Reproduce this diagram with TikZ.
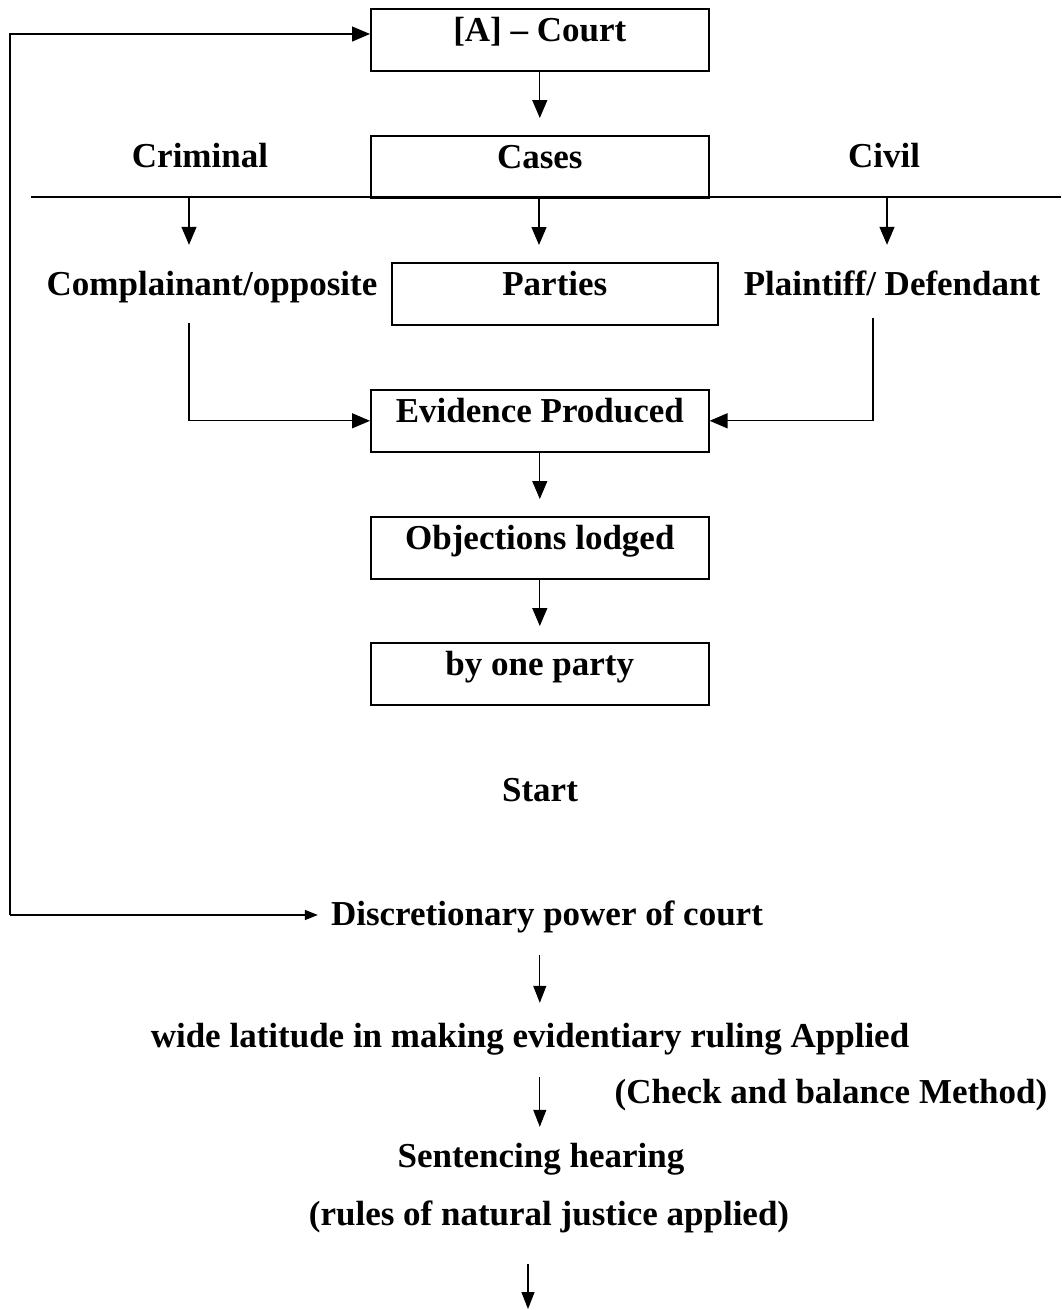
\documentclass[tikz,border=0pt]{standalone}
\usepackage{fontspec}
\setmainfont{Liberation Serif}
\usetikzlibrary{arrows.meta}
\tikzset{
	box/.style={draw, line width=1.6pt, anchor=north west, minimum width=338pt, minimum height=62pt, inner sep=0pt, text height=33pt, text depth=29pt},
	lbl/.style={anchor=base, inner sep=0pt, text height=24pt, text depth=8pt},
	arr/.style={line width=1.3pt, -{Triangle[length=18pt,width=15pt]}},
	thinarr/.style={line width=1.1pt, -{Triangle[length=17pt,width=13pt]}}
}
\begin{document}
\begin{tikzpicture}[x=1pt,y=-1pt,font=\fontsize{35}{42}\selectfont\bfseries]
		\useasboundingbox (0,0) rectangle (1061,1310);
		
		\node[box] (court) at (370,8) {[A] – Court};
		\node[box] (cases) at (370,135) {Cases};
		\node[lbl] (crim) at (200,167) {Criminal};
		\node[lbl] (civil) at (884,167) {Civil};
		\draw[line width=1.3pt] (31,197) -- (1061,197);
		\coordinate (dropL) at (189,197);
		\coordinate (dropM) at (539,197);
		\coordinate (dropR) at (887,197);
		
		\node[lbl] (comp) at (212,295) {Complainant/opposite};
		\node[box, minimum width=326pt, minimum height=61pt] (parties) at (391,262) {Parties};
		\node[lbl] (plaint) at (892,295) {Plaintiff/ Defendant};
		
		\node[box] (evid) at (370,389) {Evidence Produced};
		\node[box] (obj) at (370,516) {Objections lodged};
		\node[box] (party) at (370,642) {by one party};
		\node[lbl] (start) at (540,801) {Start};
		
		\node[lbl] (disc) at (547,925) {Discretionary power of court};
		\node[lbl] (wide) at (530,1047) {wide latitude in making evidentiary ruling Applied};
		\node[lbl] (check) at (831,1103) {(Check and balance Method)};
		\node[lbl] (sent) at (541,1167) {Sentencing hearing};
		\node[lbl] (rules) at (549,1225) {(rules of natural justice applied)};
		
		\coordinate (loopT) at (10,34);
		\coordinate (loopB) at (10,915);
		\coordinate (tail) at (528,1309);
		
		\draw[arr, shorten >=17pt] (court.south) -- (cases.north);
		\foreach \d/\n/\s in {dropL/comp/26pt, dropM/parties/17pt, dropR/plaint/26pt}
		\draw[arr, shorten >=\s] (\d) -- (\d |- \n.north);
		
		\draw[arr, shorten <=20pt] (dropL |- comp.south) |- (evid.west);
		\draw[arr, shorten <=15pt] ([xshift=-19pt]plaint.south) |- (evid.east);
		\draw[arr, shorten >=17pt] (evid.south) -- (obj.north);
		\draw[arr, shorten >=16pt] (obj.south) -- (party.north);
		
		\draw[arr] (loopB) -- (loopT) -- (loopT -| court.west);
		\draw[line width=1.3pt, -{Triangle[length=13pt,width=10pt]}, shorten >=13pt] (loopB) -- (loopB -| disc.west);
		
		\draw[thinarr, shorten <=22pt, shorten >=20pt] (disc.south -| evid.south) -- (wide.north -| evid.south);
		\draw[thinarr, shorten <=22pt, shorten >=16pt] (wide.south -| evid.south) -- (sent.north -| evid.south);
		\draw[thinarr, shorten <=31pt] (rules.south -| tail) -- (tail);
		
		\end{tikzpicture}
\end{document}
